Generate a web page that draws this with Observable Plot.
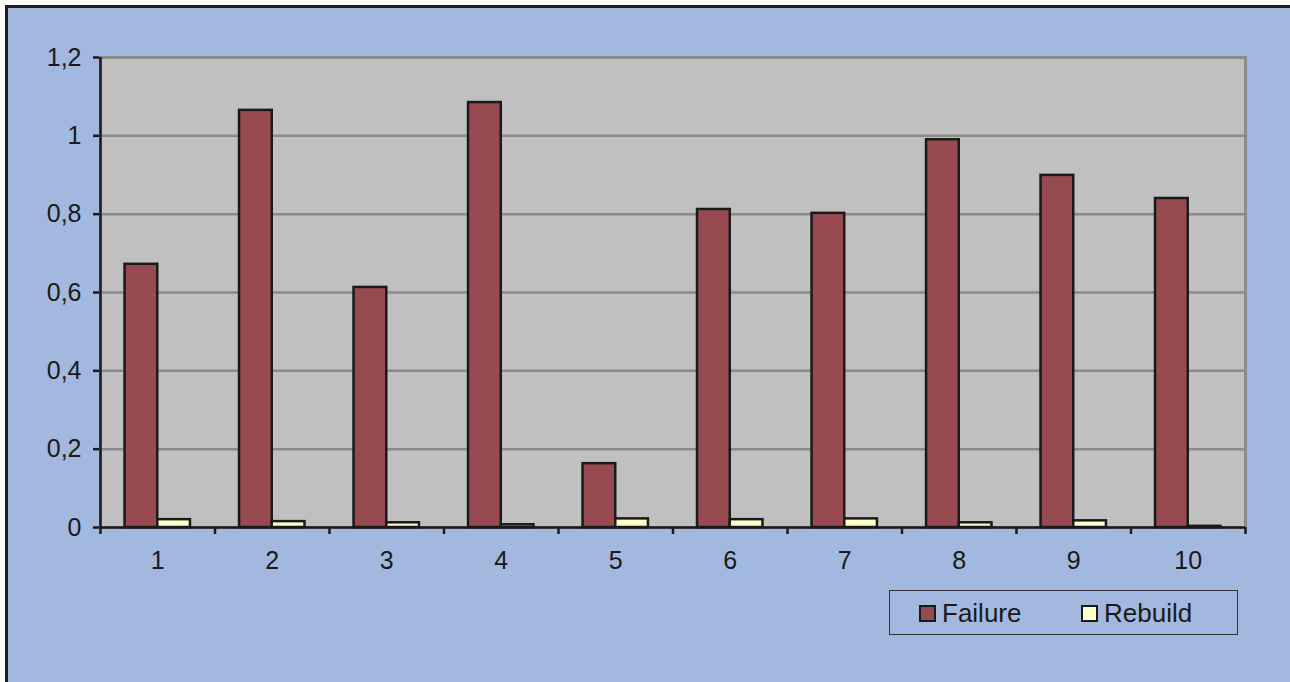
<!DOCTYPE html>
<html>
<head>
<meta charset="utf-8">
<script src="https://cdn.jsdelivr.net/npm/d3@7"></script>
<script src="https://cdn.jsdelivr.net/npm/@observablehq/plot@0.6"></script>
<style>
  html, body { margin: 0; padding: 0; background: #ffffff; overflow: hidden; }
  #box { position: absolute; left: 5px; top: 5px; width: 1300px; height: 700px;
         background: #a2b8de; border-top: 3px solid #1e1e1e; border-left: 3px solid #1e1e1e; }
  #chart { position: absolute; left: 0; top: 0; }
  #chart svg { overflow: visible; }
  #chart [aria-label^="y-axis"] line, #chart [aria-label^="y-axis"] path { stroke-width: 2.5px; }
  #legend { position: absolute; left: 889px; top: 590px; width: 347px; height: 43px;
            border: 1.5px solid #333; font-family: "Liberation Sans", Arial, sans-serif;
            font-size: 26px; color: #1a1a1a; }
  .item { position: absolute; top: 7px; display: flex; align-items: center; gap: 6px; line-height: 30px; }
  .sw { width: 13px; height: 13px; border: 2.5px solid #1a1a1a; }
</style>
</head>
<body>
<div id="box"></div>
<div id="chart"></div>
<div id="legend"></div>
<script>
const categories = ["1", "2", "3", "4", "5", "6", "7", "8", "9", "10"];
const failure = [0.672, 1.065, 0.613, 1.085, 0.163, 0.812, 0.802, 0.99, 0.899, 0.84];
const rebuild = [0.02, 0.015, 0.012, 0.007, 0.022, 0.02, 0.022, 0.012, 0.017, 0.003];
const seriesNames = ["Failure", "Rebuild"];
const seriesColors = ["#984a51", "#ffffcc"];
const yTicks = [0, 0.2, 0.4, 0.6, 0.8, 1, 1.2];

const failureData = categories.map((c, i) => ({cat: c, value: failure[i]}));
const rebuildData = categories.map((c, i) => ({cat: c, value: rebuild[i]}));

const W = 1290, H = 580, mL = 100, mR = 45, mT = 57, mB = 53;
const bw = (W - mL - mR) / categories.length;
const barW = bw / 3.5;           // Excel-like gap width 150%
const outer = 0.75 * barW;
const inner = bw - outer - barW;

const plot = Plot.plot({
  width: W, height: H,
  marginLeft: mL, marginRight: mR, marginTop: mT, marginBottom: mB,
  style: {background: "transparent", fontFamily: "'Liberation Sans', Arial, sans-serif", fontSize: "25px", color: "#1a1a1a"},
  x: {domain: categories, padding: 0, round: false, tickSize: 0, tickPadding: 24, label: null},
  y: {domain: [0, 1.2], ticks: yTicks, tickSize: 7, tickPadding: 12, label: null,
      tickFormat: d => String(d).replace(".", ",")},
  marks: [
    Plot.frame({fill: "#c0c0c0", stroke: "#8a8a8a", strokeWidth: 3}),
    Plot.ruleY(yTicks.slice(1), {stroke: "#8a8a8a", strokeWidth: 2.5}),
    Plot.barY(failureData, {x: "cat", y: "value", fill: seriesColors[0], stroke: "#1a1a1a", strokeWidth: 2.5,
      insetLeft: outer, insetRight: inner}),
    Plot.barY(rebuildData, {x: "cat", y: "value", fill: seriesColors[1], stroke: "#1a1a1a", strokeWidth: 2.5,
      insetLeft: inner, insetRight: outer}),
    Plot.ruleY([0], {stroke: "#1a1a1a", strokeWidth: 2.5}),
    Plot.ruleX([categories[0]], {x: d => d, y1: 0, y2: 1.2, dx: -bw / 2, stroke: "#1a1a1a", strokeWidth: 2.5}),
    Plot.ruleX(categories, {x: d => d, y1: 0, y2: 0, insetBottom: -7, dx: -bw / 2, stroke: "#1a1a1a", strokeWidth: 2.5}),
    Plot.ruleX([categories[categories.length - 1]], {x: d => d, y1: 0, y2: 0, insetBottom: -7, dx: bw / 2, stroke: "#1a1a1a", strokeWidth: 2.5})
  ]
});
document.getElementById("chart").appendChild(plot);

const legend = document.getElementById("legend");
const lefts = [29, 191];
seriesNames.forEach((name, i) => {
  const it = document.createElement("div");
  it.className = "item";
  it.style.left = lefts[i] + "px";
  const sw = document.createElement("div");
  sw.className = "sw";
  sw.style.background = seriesColors[i];
  const tx = document.createElement("span");
  tx.textContent = name;
  it.appendChild(sw); it.appendChild(tx);
  legend.appendChild(it);
});
</script>
</body>
</html>
